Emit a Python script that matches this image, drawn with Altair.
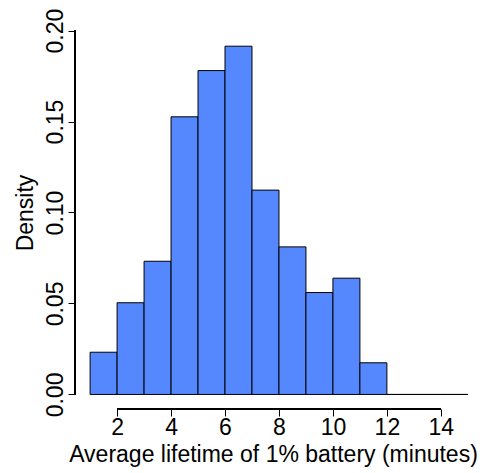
import altair as alt
import pandas as pd

# Histogram bins (breaks 1..15) and densities
bin_start = [1, 2, 3, 4, 5, 6, 7, 8, 9, 10, 11, 12, 13, 14]
bin_end = [2, 3, 4, 5, 6, 7, 8, 9, 10, 11, 12, 13, 14, 15]
density = [0.0232, 0.0504, 0.0732, 0.1526, 0.1780, 0.1914, 0.1123,
           0.0811, 0.0560, 0.0639, 0.0174, 0.0, 0.0, 0.0]

x_ticks = [2, 4, 6, 8, 10, 12, 14]
y_ticks = [0.00, 0.05, 0.10, 0.15, 0.20]

df = pd.DataFrame({"start": bin_start, "end": bin_end, "density": density})

FONT = "Liberation Sans"
FS = 23
W, H = 404, 393
PX_PER_UNIT = 26.98

xscale = alt.Scale(domain=[0.44, 0.44 + W / PX_PER_UNIT], nice=False, zero=False)
yscale = alt.Scale(domain=[-0.008, 0.208], nice=False, zero=False)

bars = alt.Chart(df).mark_rect(
    color="#5588FF", stroke="black", strokeWidth=1
).encode(
    x=alt.X("start:Q", scale=xscale,
            axis=alt.Axis(values=x_ticks, domain=False, grid=False,
                          tickColor="black", tickSize=7, tickWidth=1,
                          labelFont=FONT, labelFontSize=FS, labelColor="black",
                          labelBaseline="alphabetic", labelPadding=18,
                          labelFlush=False, labelOverlap=False,
                          title="Average lifetime of 1% battery (minutes)",
                          titleFont=FONT, titleFontSize=FS, titleFontWeight="normal",
                          titleColor="black", titleBaseline="alphabetic",
                          titleAlign="center", titleX=198, titleY=52)),
    x2="end:Q",
    y=alt.Y("zero:Q", scale=yscale,
            axis=alt.Axis(values=y_ticks, format=".2f", domain=False, grid=False,
                          tickColor="black", tickSize=7, tickWidth=1,
                          labelFont=FONT, labelFontSize=FS, labelColor="black",
                          labelAngle=-90, labelAlign="center",
                          labelBaseline="alphabetic", labelPadding=6,
                          labelFlush=False, labelOverlap=False,
                          title="Density", titleFont=FONT, titleFontSize=FS,
                          titleFontWeight="normal", titleColor="black",
                          titleAngle=-90, titleAlign="center",
                          titleBaseline="alphabetic", titleX=-43, titleY=H / 2)),
    y2="density:Q",
).transform_calculate(zero="0")

xaxis_line = alt.Chart(df).mark_rule(color="black", strokeWidth=1).encode(
    x=alt.datum(x_ticks[0], scale=xscale),
    x2=alt.datum(x_ticks[-1]),
    y=alt.value(H),
)
yaxis_line = alt.Chart(df).mark_rule(color="black", strokeWidth=1).encode(
    y=alt.datum(y_ticks[0], scale=yscale),
    y2=alt.datum(y_ticks[-1]),
    x=alt.value(0),
)

chart = alt.layer(bars, xaxis_line, yaxis_line).properties(
    width=W, height=H,
    autosize=alt.AutoSizeParams(type="none"),
    padding={"left": 67, "top": 8, "right": 0, "bottom": 62},
).configure_view(stroke=None)

chart.save("out.html", embed_options={"renderer": "svg", "actions": False})
